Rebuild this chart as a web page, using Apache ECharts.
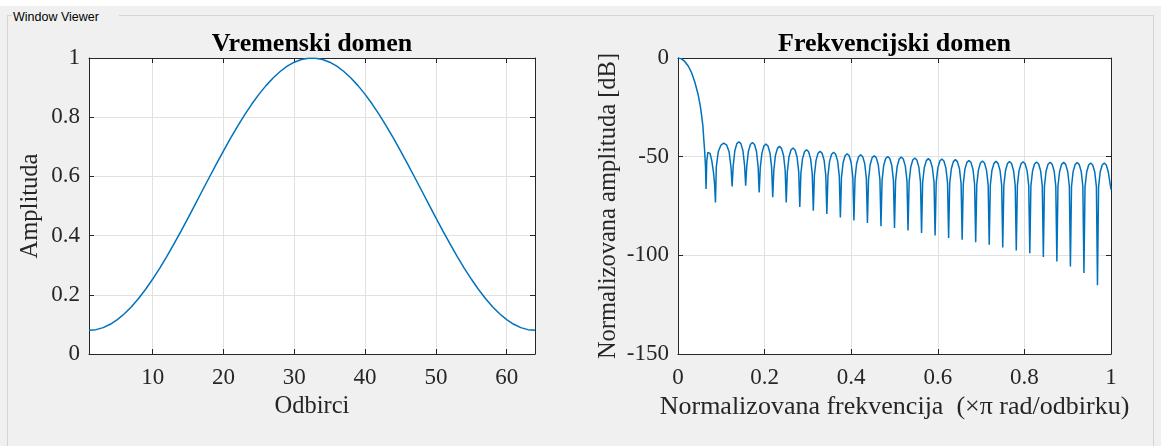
<!DOCTYPE html>
<html>
<head>
<meta charset="utf-8">
<title>Window Viewer</title>
<script src="https://cdn.jsdelivr.net/npm/echarts@6/dist/echarts.min.js"></script>
<style>
  html, body { margin: 0; padding: 0; width: 1161px; height: 446px; overflow: hidden; background: #ffffff; }
  #panel { position: absolute; left: 0; top: 6px; width: 1161px; height: 440px; background: #f0f0f0; }
  #frame { position: absolute; left: 7px; top: 15px; width: 1147px; height: 440px; border: 1px solid #d4d4d4; box-sizing: border-box; }
  #caption { position: absolute; left: 12px; top: 9px; height: 16px; width: 106px; background: #f0f0f0;
             font: 12.5px "Liberation Sans", "DejaVu Sans", sans-serif; color: #000; line-height: 16px; padding-left: 1px; }
  #chart { position: absolute; left: 0; top: 0; width: 1161px; height: 446px; }
</style>
</head>
<body>
<div id="panel"></div>
<div id="frame"></div>
<div id="caption">Window Viewer</div>
<div id="chart"></div>
<script>
// Hamming window, 64 samples (time domain)
const windowValues = [
  0.0800, 0.0823, 0.0891, 0.1004, 0.1161, 0.1360, 0.1599, 0.1876,
  0.2188, 0.2532, 0.2904, 0.3301, 0.3719, 0.4154, 0.4601, 0.5056,
  0.5515, 0.5972, 0.6424, 0.6865, 0.7292, 0.7700, 0.8085, 0.8444,
  0.8772, 0.9067, 0.9325, 0.9544, 0.9723, 0.9858, 0.9949, 0.9994,
  0.9994, 0.9949, 0.9858, 0.9723, 0.9544, 0.9325, 0.9067, 0.8772,
  0.8444, 0.8085, 0.7700, 0.7292, 0.6865, 0.6424, 0.5972, 0.5515,
  0.5056, 0.4601, 0.4154, 0.3719, 0.3301, 0.2904, 0.2532, 0.2188,
  0.1876, 0.1599, 0.1360, 0.1161, 0.1004, 0.0891, 0.0823, 0.0800
];

// Normalized magnitude response [frequency (x pi rad/sample), dB]
const responseDb = [
  [0, 0], [0.008, -0.45], [0.0156, -1.75], [0.024, -4.2], [0.03125, -7.4], [0.039, -12.3],
  [0.0469, -18.9], [0.0516, -24.5], [0.0547, -29.3], [0.0575, -34.5], [0.0594, -40.7],
  [0.0615, -47.0], [0.0635, -55.0], [0.0648, -66.4],
  [0.0665, -52.0], [0.069, -47.8], [0.0712, -47.0], [0.074, -48.3], [0.078, -52.0], [0.082, -58.0], [0.0845, -64.0], [0.0865, -73.2],
  [0.0885, -55.0], [0.093, -47.5], [0.099, -44.2], [0.1055, -43.1], [0.112, -44.0], [0.118, -47.5], [0.1225, -55.5], [0.125, -65.1],
  [0.1275, -54.5], [0.1313, -47.0], [0.1359, -43.4], [0.1406, -42.4], [0.1453, -43.4], [0.15, -47.0], [0.1538, -54.5], [0.15625, -64.7],
  [0.1588, -54.9], [0.1625, -47.4], [0.1672, -43.8], [0.1719, -42.8], [0.1766, -43.8], [0.1813, -47.4], [0.185, -54.9], [0.1875, -68.1],
  [0.19, -55.7], [0.1938, -48.2], [0.1984, -44.6], [0.2031, -43.6], [0.2078, -44.6], [0.2125, -48.2], [0.2163, -55.7], [0.21875, -70.6],
  [0.2213, -56.9], [0.225, -49.4], [0.2297, -45.8], [0.2344, -44.8], [0.2391, -45.8], [0.2438, -49.4], [0.2475, -56.9], [0.25, -73.2],
  [0.2525, -57.7], [0.2563, -50.2], [0.2609, -46.6], [0.2656, -45.6], [0.2703, -46.6], [0.275, -50.2], [0.2788, -57.7], [0.28125, -75.5],
  [0.2838, -58.6], [0.2875, -51.1], [0.2922, -47.5], [0.2969, -46.5], [0.3016, -47.5], [0.3063, -51.1], [0.31, -58.6], [0.3125, -77.4],
  [0.315, -59.4], [0.3188, -51.9], [0.3234, -48.3], [0.3281, -47.3], [0.3328, -48.3], [0.3375, -51.9], [0.3413, -59.4], [0.34375, -79.1],
  [0.3463, -59.9], [0.35, -52.4], [0.3547, -48.8], [0.3594, -47.8], [0.3641, -48.8], [0.3688, -52.4], [0.3725, -59.9], [0.375, -80.8],
  [0.3775, -60.6], [0.3813, -53.1], [0.3859, -49.5], [0.3906, -48.5], [0.3953, -49.5], [0.4, -53.1], [0.4038, -60.6], [0.40625, -82.3],
  [0.4088, -61.1], [0.4125, -53.6], [0.4172, -50.0], [0.4219, -49.0], [0.4266, -50.0], [0.4313, -53.6], [0.435, -61.1], [0.4375, -83.6],
  [0.44, -61.6], [0.4438, -54.1], [0.4484, -50.5], [0.4531, -49.5], [0.4578, -50.5], [0.4625, -54.1], [0.4663, -61.6], [0.46875, -85.3],
  [0.4713, -62.0], [0.475, -54.5], [0.4797, -50.9], [0.4844, -49.9], [0.4891, -50.9], [0.4938, -54.5], [0.4975, -62.0], [0.5, -86.2],
  [0.5025, -62.3], [0.5063, -54.8], [0.5109, -51.2], [0.5156, -50.2], [0.5203, -51.2], [0.525, -54.8], [0.5288, -62.3], [0.53125, -87.4],
  [0.5338, -62.8], [0.5375, -55.3], [0.5422, -51.7], [0.5469, -50.7], [0.5516, -51.7], [0.5563, -55.3], [0.56, -62.8], [0.5625, -88.7],
  [0.565, -63.1], [0.5688, -55.6], [0.5734, -52.0], [0.5781, -51.0], [0.5828, -52.0], [0.5875, -55.6], [0.5913, -63.1], [0.59375, -89.9],
  [0.5963, -63.3], [0.6, -55.8], [0.6047, -52.2], [0.6094, -51.2], [0.6141, -52.2], [0.6188, -55.8], [0.6225, -63.3], [0.625, -91.2],
  [0.6275, -63.6], [0.6313, -56.1], [0.6359, -52.5], [0.6406, -51.5], [0.6453, -52.5], [0.65, -56.1], [0.6538, -63.6], [0.65625, -92.1],
  [0.6588, -64.0], [0.6625, -56.5], [0.6672, -52.9], [0.6719, -51.9], [0.6766, -52.9], [0.6813, -56.5], [0.685, -64.0], [0.6875, -93.4],
  [0.69, -64.3], [0.6938, -56.8], [0.6984, -53.2], [0.7031, -52.2], [0.7078, -53.2], [0.7125, -56.8], [0.7163, -64.3], [0.71875, -94.6],
  [0.7213, -64.5], [0.725, -57.0], [0.7297, -53.4], [0.7344, -52.4], [0.7391, -53.4], [0.7438, -57.0], [0.7475, -64.5], [0.75, -96.0],
  [0.7525, -64.6], [0.7563, -57.1], [0.7609, -53.5], [0.7656, -52.5], [0.7703, -53.5], [0.775, -57.1], [0.7788, -64.6], [0.78125, -97.5],
  [0.7838, -64.7], [0.7875, -57.2], [0.7922, -53.6], [0.7969, -52.6], [0.8016, -53.6], [0.8063, -57.2], [0.81, -64.7], [0.8125, -99.0],
  [0.815, -64.8], [0.8188, -57.3], [0.8234, -53.7], [0.8281, -52.7], [0.8328, -53.7], [0.8375, -57.3], [0.8413, -64.8], [0.84375, -100.9],
  [0.8463, -64.9], [0.85, -57.4], [0.8547, -53.8], [0.8594, -52.8], [0.8641, -53.8], [0.8688, -57.4], [0.8725, -64.9], [0.875, -103.1],
  [0.8775, -65.0], [0.8813, -57.5], [0.8859, -53.9], [0.8906, -52.9], [0.8953, -53.9], [0.9, -57.5], [0.9038, -65.0], [0.90625, -105.6],
  [0.9088, -65.1], [0.9125, -57.6], [0.9172, -54.0], [0.9219, -53.0], [0.9266, -54.0], [0.9313, -57.6], [0.935, -65.1], [0.9375, -109.0],
  [0.94, -65.3], [0.9438, -57.8], [0.9484, -54.2], [0.9531, -53.2], [0.9578, -54.2], [0.9625, -57.8], [0.9663, -65.3], [0.96875, -115.2],
  [0.9713, -65.3], [0.975, -57.8], [0.9797, -54.2], [0.9844, -53.2], [0.9891, -54.2], [0.9938, -57.8], [1.0, -66.7]
];

// Tick positions
const sampleTicks = [10, 20, 30, 40, 50, 60];

const titles = ['Vremenski domen', 'Frekvencijski domen'];
const axisNames = {
  timeX: 'Odbirci',
  timeY: 'Amplituda',
  freqX: 'Normalizovana frekvencija  (\u00d7\u03c0 rad/odbirku)',
  freqY: 'Normalizovana amplituda [dB]'
};

const SERIF = '"Liberation Serif", "Times New Roman", serif';
const INK = '#262626';
const GRID_COLOR = '#e1e1e1';
const LINE_BLUE = '#0072bd';
const TICK_FONT = 23;
const NAME_FONT = 24.5;

function boxAxis(base) {
  // mirrored axis drawing only the frame line and inward ticks
  return Object.assign({
    type: 'value',
    axisLine: { show: true, onZero: false, lineStyle: { color: INK, width: 1 } },
    axisTick: { show: true, inside: true, length: 5, lineStyle: { color: INK, width: 1 } },
    axisLabel: { show: false },
    splitLine: { show: false }
  }, base);
}

function mainAxis(base, extra) {
  const ax = Object.assign({
    type: 'value',
    axisLine: { show: true, onZero: false, lineStyle: { color: INK, width: 1 } },
    axisTick: { show: true, inside: true, length: 5, lineStyle: { color: INK, width: 1 } },
    axisLabel: { show: true, color: INK, fontFamily: SERIF, fontSize: TICK_FONT },
    splitLine: { show: true, lineStyle: { color: GRID_COLOR, width: 1 } },
    nameLocation: 'middle',
    nameTextStyle: { color: INK, fontFamily: SERIF, fontSize: NAME_FONT }
  }, base);
  if (extra) {
    Object.keys(extra).forEach(k => { ax[k] = Object.assign({}, ax[k], extra[k]); });
  }
  return ax;
}

const chart = echarts.init(document.getElementById('chart'), null, { renderer: 'canvas' });

const leftGrid = { left: 89, top: 58, width: 446, height: 296 };
const rightGrid = { left: 678, top: 58, width: 433, height: 296 };

chart.setOption({
  backgroundColor: 'transparent',
  animation: false,
  grid: [
    Object.assign({ show: true, backgroundColor: '#ffffff', borderWidth: 0, containLabel: false }, leftGrid),
    Object.assign({ show: true, backgroundColor: '#ffffff', borderWidth: 0, containLabel: false }, rightGrid)
  ],
  xAxis: [
    mainAxis({ gridIndex: 0, position: 'bottom', min: 1, max: 64, name: axisNames.timeX, nameGap: 40 },
             { axisTick: { customValues: sampleTicks }, axisLabel: { customValues: sampleTicks, margin: 12 } }),
    boxAxis({ gridIndex: 0, position: 'top', min: 1, max: 64, axisTick: { show: true, inside: true, length: 5, customValues: sampleTicks, lineStyle: { color: INK, width: 1 } } }),
    mainAxis({ gridIndex: 1, position: 'bottom', min: 0, max: 1, interval: 0.2, name: axisNames.freqX, nameGap: 40 },
             { axisLabel: { margin: 12 }, nameTextStyle: { fontSize: 26 } }),
    boxAxis({ gridIndex: 1, position: 'top', min: 0, max: 1, interval: 0.2 })
  ],
  yAxis: [
    mainAxis({ gridIndex: 0, position: 'left', min: 0, max: 1, interval: 0.2, name: axisNames.timeY, nameGap: 46 },
             { axisLabel: { margin: 9 } }),
    boxAxis({ gridIndex: 0, position: 'right', min: 0, max: 1, interval: 0.2 }),
    mainAxis({ gridIndex: 1, position: 'left', min: -150, max: 0, interval: 50, name: axisNames.freqY, nameGap: 57 },
             { axisLabel: { margin: 9 } }),
    boxAxis({ gridIndex: 1, position: 'right', min: -150, max: 0, interval: 50 })
  ],
  graphic: [
    {
      type: 'text', x: leftGrid.left + leftGrid.width / 2, y: 44,
      style: { text: titles[0], fill: '#000', font: 'bold 26px ' + SERIF, align: 'center', verticalAlign: 'middle' }
    },
    {
      type: 'text', x: rightGrid.left + rightGrid.width / 2, y: 44,
      style: { text: titles[1], fill: '#000', font: 'bold 26px ' + SERIF, align: 'center', verticalAlign: 'middle' }
    }
  ],
  series: [
    {
      type: 'line', xAxisIndex: 0, yAxisIndex: 0,
      data: windowValues.map((v, i) => [i + 1, v]),
      showSymbol: false, smooth: false, clip: true,
      lineStyle: { color: LINE_BLUE, width: 1.5 }
    },
    {
      type: 'line', xAxisIndex: 2, yAxisIndex: 2,
      data: responseDb,
      showSymbol: false, smooth: false, clip: true,
      lineStyle: { color: LINE_BLUE, width: 1.5 }
    }
  ]
});
</script>
</body>
</html>
